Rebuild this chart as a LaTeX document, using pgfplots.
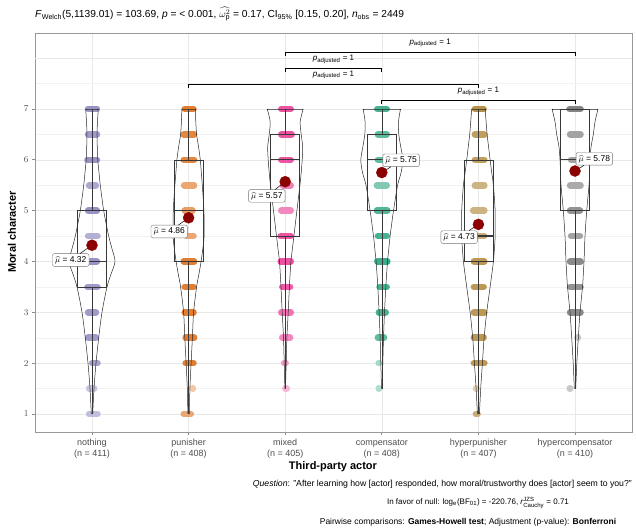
\documentclass[border=0pt]{standalone}
\usepackage{amsmath}
\usepackage{fontspec}
\setmainfont{Liberation Sans}
\usepackage{pgfplots}
\pgfplotsset{compat=1.18}
\usepackage{pgfplotstable}
\usepgfplotslibrary{statistics}

\definecolor{cA}{HTML}{7570B3}
\definecolor{cB}{HTML}{D95F02}
\definecolor{cC}{HTML}{E7298A}
\definecolor{cD}{HTML}{1B9E77}
\definecolor{cE}{HTML}{A6761D}
\definecolor{cF}{HTML}{666666}
\definecolor{meanred}{HTML}{8B0000}
\definecolor{txtgray}{HTML}{4D4D4D}

\pgfplotsset{
  colormap={cmA}{color=(white) color=(cA)},
  colormap={cmB}{color=(white) color=(cB)},
  colormap={cmC}{color=(white) color=(cC)},
  colormap={cmD}{color=(white) color=(cD)},
  colormap={cmE}{color=(white) color=(cE)},
  colormap={cmF}{color=(white) color=(cF)},
  vio/.style={black!85, line width=0.5pt, smooth, tension=0.5, mark=none},
}

% violin half widths (px; 96.6 px = 1 category unit)
\pgfplotstableread{
y    n1   n2   n3   n4   n5   n6
1.0  0.7  0.7  nan  nan  1.0  nan
1.5  2    1.3  0.3  0.3  2.3  0.7
2.0  4    2.5  1    1    4    1.8
2.5  6.7  3.8  1.7  1.7  5.7  3.3
3.0  10   5    3    2.7  8.3  5
3.5  15   8    4.2  4    11.7 7.5
3.75 19   10.3 4.9  4.8  13.4 8.3
4.0  23   12.5 5.7  5.7  15   9
4.25 20   14.2 7.2  7    16   9.5
4.5  16.7 15.5 8.7  8.3  16.7 10
5.0  11.7 15.3 11.7 11.7 16.7 11.7
5.5  8.3  13.7 14.7 15.8 15   14
5.75 7    12.7 16   19.3 13.3 14.5
6.0  5.8  11.7 17   21   11.7 15
6.25 5.3  10   17.5 19   10.2 16
6.5  5    8    16   17   8.7  18.3
6.75 5.5  7.2  15   16.7 7.7  20
7.0  6.3  6.7  18   18.7 6.7  23
}\vt

% jittered responses: level, extent of point centres (px), density
\pgfplotstableread{
y lo hi d
7 -3.9 4.9 .75
6.5 -3.9 4.9 .7
6 -4.5 4.9 .75
5.5 -2.9 3.9 .6
5 -3.9 4.9 .75
4.5 -3.9 5.5 .55
4 -3.9 4.9 .75
3.5 -4.5 5.5 .7
3 -3.9 3.9 .7
2.5 -3.9 3.9 .7
2 0.1 5.5 .65
1.5 -2.9 2.2 .4
1 -2.9 5.5 .45
}\jA
\pgfplotstableread{
y lo hi d
7 -3.9 4.9 .8
6.5 -4.9 5.5 .75
6 -4.9 5.5 .75
5.5 -4.5 5.5 .55
5 -3.9 3.9 .6
4.5 -2.2 4.9 .55
4 -4.9 5.5 .8
3.5 -3.9 4.9 .8
3 -3.9 4.9 .8
2.5 -2.9 5.5 .8
2 -2.9 4.9 .8
1.5 4.0 4.4 .35
1 -4.9 2.2 .55
}\jB
\pgfplotstableread{
y lo hi d
7 -3.9 5.5 .8
6.5 -3.9 6.5 .8
6 -3.9 5.5 .8
5.5 -2.2 5.5 .6
5 -3.9 5.5 .55
4.5 -4.5 5.5 .8
4 -4.5 5.5 .8
3.5 -2.9 4.9 .75
3 -3.9 5.5 .65
2.5 -2.9 4.9 .55
2 -1.2 0.5 .45
1.5 0.1 1.5 .35
}\jC
\pgfplotstableread{
y lo hi d
7 -4.5 4.9 .8
6.5 -3.9 4.9 .7
6 -3.9 3.9 .7
5.5 -4.9 4.9 .55
5 -4.9 5.5 .75
4.5 -3.9 4.9 .8
4 -4.5 5.5 .85
3.5 -2.2 4.9 .8
3 -2.9 3.9 .8
2.5 -3.9 2.2 .7
2 -3.1 -2.7 .4
1.5 -3.1 -2.7 .35
}\jD
\pgfplotstableread{
y lo hi d
7 -3.5 5.2 .8
6.5 -3.5 5.9 .7
6 -3.5 5.9 .7
5.5 -3.5 5.9 .55
5 -5.2 5.9 .55
4.5 -3.5 5.9 .6
4 -4.5 5.9 .75
3.5 -4.5 5.2 .75
3 -4.5 5.9 .75
2.5 -4.5 5.2 .75
2 -4.5 5.9 .75
1.5 -2.5 -1.8 .35
1 -2.5 -0.8 .6
}\jE
\pgfplotstableread{
y lo hi d
7 -5.5 5.5 .8
6.5 -4.9 5.5 .6
6 -3.9 5.5 .6
5.5 -4.9 5.5 .55
5 -4.9 4.9 .7
4.5 -3.9 4.9 .6
4 -4.9 5.5 .75
3.5 -4.9 5.5 .7
3 -4.9 5.5 .75
2.5 2.4 3.0 .35
1.5 -5.3 -4.7 .35
}\jF

\newcommand{\jit}[3]{%
  \addplot[colormap name=#3, point meta=\thisrow{d}, mark=none, line width=6.6pt, line cap=round,
    quiver={u={(\thisrow{hi}-\thisrow{lo})/96.6}, v=0, colored=mapped color}]
    table[x expr={#1+\thisrow{lo}/96.6}, y=y] {#2};}
\newcommand{\vio}[2]{%
  \addplot[vio] table[x expr={#1+\thisrow{#2}/96.6}, y=y] {\vt};
  \addplot[vio] table[x expr={#1-\thisrow{#2}/96.6}, y=y] {\vt};}
\newcommand{\bx}[6]{%
  \addplot[black!78, line width=0.6pt, mark=none, boxplot prepared={draw position=#1,
    draw direction=y,
    lower whisker=#2, lower quartile=#3, median=#4, upper quartile=#5, upper whisker=#6,
    box extend=0.3, whisker extend=0, every median/.style={line width=1.3pt}}] coordinates {};}

\begin{document}
\begin{tikzpicture}
\useasboundingbox (-35pt,-99pt) rectangle (601pt,432pt);
\begin{axis}[
  at={(0,0)}, anchor=south west,
  width=597pt, height=399pt, scale only axis,
  xmin=0.41, xmax=6.59, ymin=0.646, ymax=8.495,
  enlargelimits=false,
  point meta min=0, point meta max=1,
  xtick={1,...,6},
  xticklabels={{\strut nothing\\(n = 411)},{\strut punisher\\(n = 408)},{\strut mixed\\(n = 405)},{\strut compensator\\(n = 408)},{\strut hyperpunisher\\(n = 407)},{\strut hypercompensator\\(n = 410)}},
  xticklabel style={align=center, font=\fontsize{9}{10.5}\selectfont, text=txtgray},
  ytick={1,...,7},
  yticklabel style={font=\fontsize{9}{10.5}\selectfont, text=txtgray},
  extra y ticks={8}, extra y tick labels={},
  extra y tick style={major tick length=0pt},
  minor ytick={1.5,2.5,3.5,4.5,5.5,6.5,7.5},
  ymajorgrids, yminorgrids, xmajorgrids,
  major grid style={draw=black!9, line width=0.6pt},
  minor grid style={draw=black!5, line width=0.4pt},
  axis line style={draw=black!40, line width=0.8pt},
  xtick pos=bottom, ytick pos=left,
  tick align=outside, major tick length=3pt, minor tick length=0pt,
  tick style={draw=black!45, line width=0.8pt},
  clip=false,
]
% jittered points
\jit{1}{\jA}{cmA}
\jit{2}{\jB}{cmB}
\jit{3}{\jC}{cmC}
\jit{4}{\jD}{cmD}
\jit{5}{\jE}{cmE}
\jit{6}{\jF}{cmF}
% violins
\vio{1}{n1}\vio{2}{n2}\vio{3}{n3}\vio{4}{n4}\vio{5}{n5}\vio{6}{n6}
\addplot[vio] coordinates {(0.935,7) (1.065,7)};
\addplot[vio] coordinates {(1.931,7) (2.069,7)};
\addplot[vio] coordinates {(2.814,7) (3.186,7)};
\addplot[vio] coordinates {(3.806,7) (4.194,7)};
\addplot[vio] coordinates {(4.931,7) (5.069,7)};
\addplot[vio] coordinates {(5.762,7) (6.238,7)};
% boxes
\bx{1}{1}{3.5}{4}{5}{7}
\bx{2}{1}{4}{5}{6}{7}
\bx{3}{1.5}{4.5}{6}{6.5}{7}
\bx{4}{1.5}{5}{6}{6.5}{7}
\bx{5}{1}{4}{4.5}{6}{7}
\bx{6}{1.5}{5}{6}{7}{7}
% means
\addplot[only marks, mark=*, mark size=5.5pt, color=meanred] coordinates {(1,4.32) (2,4.86) (3,5.57) (4,5.75) (5,4.73) (6,5.78)};
\begin{scope}[every node/.style={draw=black!55, fill=white, rounded corners=2pt, inner sep=2.6pt, font=\fontsize{8.5}{10}\selectfont}]
\node (l1) at (axis cs:0.78,4.03) {$\widehat{\mu}$ = 4.32};
\node (l2) at (axis cs:1.80,4.59) {$\widehat{\mu}$ = 4.86};
\node (l3) at (axis cs:2.81,5.29) {$\widehat{\mu}$ = 5.57};
\node (l4) at (axis cs:4.20,5.99) {$\widehat{\mu}$ = 5.75};
\node (l5) at (axis cs:4.80,4.48) {$\widehat{\mu}$ = 4.73};
\node (l6) at (axis cs:6.20,6.02) {$\widehat{\mu}$ = 5.78};
\end{scope}
\draw[black, line width=0.5pt] (l1) -- (axis cs:1,4.32);
\draw[black, line width=0.5pt] (l2) -- (axis cs:2,4.86);
\draw[black, line width=0.5pt] (l3) -- (axis cs:3,5.57);
\draw[black, line width=0.5pt] (l4) -- (axis cs:4,5.75);
\draw[black, line width=0.5pt] (l5) -- (axis cs:5,4.73);
\draw[black, line width=0.5pt] (l6) -- (axis cs:6,5.78);
% pairwise brackets
\addplot[black, line width=0.7pt, mark=none] coordinates {(3,8.052) (3,8.122) (6,8.122) (6,8.052)};
\addplot[black, line width=0.7pt, mark=none] coordinates {(3,7.737) (3,7.807) (4,7.807) (4,7.737)};
\addplot[black, line width=0.7pt, mark=none] coordinates {(2,7.422) (2,7.492) (5,7.492) (5,7.422)};
\addplot[black, line width=0.7pt, mark=none] coordinates {(4,7.107) (4,7.177) (6,7.177) (6,7.107)};
\begin{scope}[every node/.style={font=\fontsize{8}{9}\selectfont, inner sep=1pt}]
\node at (axis cs:4.5,8.30) {\textit{p}\textsubscript{adjusted} = 1};
\node at (axis cs:3.5,7.98) {\textit{p}\textsubscript{adjusted} = 1};
\node at (axis cs:3.5,7.67) {\textit{p}\textsubscript{adjusted} = 1};
\node at (axis cs:5.0,7.35) {\textit{p}\textsubscript{adjusted} = 1};
\end{scope}
\end{axis}
% titles and captions
\node[anchor=west, inner sep=0pt, font=\fontsize{10.2}{12}\selectfont] at (0pt,418pt)
  {\textit{F}\textsubscript{Welch}(5,1139.01) = 103.69, \textit{p} = < 0.001, $\widehat{\omega_{\text{p}}^{2}}$ = 0.17, CI\textsubscript{95\%} [0.15, 0.20], \textit{n}\textsubscript{obs} = 2449};
\node[rotate=90, inner sep=0pt, font=\bfseries\fontsize{11}{13}\selectfont] at (-23pt,200pt) {Moral character};
\node[inner sep=0pt, font=\bfseries\fontsize{11}{13}\selectfont] at (298pt,-35pt) {Third-party actor};
\node[anchor=east, inner sep=0pt, font=\fontsize{8.7}{10}\selectfont] at (597pt,-52pt)
  {\textit{Question}: "After learning how [actor] responded, how moral/trustworthy does [actor] seem to you?"};
\node[inner sep=0pt, font=\fontsize{8}{10}\selectfont] at (443pt,-71pt)
  {In favor of null: log\textsubscript{e}(BF\textsubscript{01}) = -220.76, \textit{r}$^{\text{JZS}}_{\text{Cauchy}}$ = 0.71};
\node[inner sep=0pt, font=\fontsize{8.5}{10}\selectfont] at (433pt,-90pt)
  {Pairwise comparisons: \textbf{Games-Howell test}; Adjustment (p-value): \textbf{Bonferroni}};
\end{tikzpicture}
\end{document}
